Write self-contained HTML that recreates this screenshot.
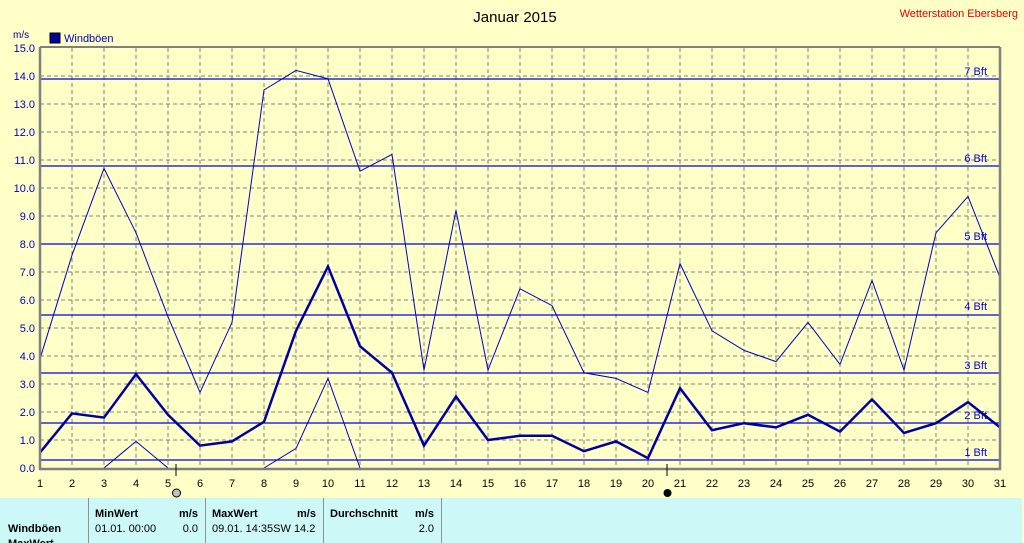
<!DOCTYPE html>
<html><head><meta charset="utf-8"><style>
html,body{margin:0;padding:0;background:#ffffc8;}
body{width:1024px;height:543px;overflow:hidden;position:relative;font-family:"Liberation Sans",sans-serif;}
</style></head><body>
<svg width="1024" height="543" style="position:absolute;left:0;top:0" font-family="Liberation Sans, sans-serif">
<rect x="0" y="0" width="1024" height="543" fill="#ffffc8"/>
<text x="515" y="22" font-size="15" text-anchor="middle" fill="#000">Januar 2015</text>
<text x="1018" y="17" font-size="11" text-anchor="end" fill="#e00000">Wetterstation Ebersberg</text>
<text x="13" y="38" font-size="10" fill="#0000a0">m/s</text>
<rect x="50" y="33" width="10" height="10" fill="#0000a0" stroke="#000" stroke-width="1"/>
<text x="64" y="42" font-size="11" fill="#0000c0">Windböen</text>
<g stroke="#808080" stroke-width="1" stroke-dasharray="4,3">
<path d="M72 48V468M104 48V468M136 48V468M168 48V468M200 48V468M232 48V468M264 48V468M296 48V468M328 48V468M360 48V468M392 48V468M424 48V468M456 48V468M488 48V468M520 48V468M552 48V468M584 48V468M616 48V468M648 48V468M680 48V468M712 48V468M744 48V468M776 48V468M808 48V468M840 48V468M872 48V468M904 48V468M936 48V468M968 48V468"/>
<path d="M40 76H1000M40 104H1000M40 132H1000M40 160H1000M40 188H1000M40 216H1000M40 244H1000M40 272H1000M40 300H1000M40 328H1000M40 356H1000M40 384H1000M40 412H1000M40 440H1000"/>
</g>
<g stroke="#0000e0" stroke-width="1.3">
<path d="M40 79H1000M40 166H1000M40 244H1000M40 315H1000M40 373H1000M40 423H1000M40 460H1000"/>
</g>
<g font-size="11" fill="#0000e0" text-anchor="end">
<text x="987" y="75">7 Bft</text><text x="987" y="162">6 Bft</text><text x="987" y="240">5 Bft</text><text x="987" y="310">4 Bft</text><text x="987" y="369">3 Bft</text><text x="987" y="419">2 Bft</text><text x="987" y="456">1 Bft</text>
</g>
<polyline fill="none" stroke="#0000c0" stroke-width="1" points="40,358.8 72,255.2 104,168.4 136,232.8 168,316.8 200,392.4 232,322.4 264,90 296,70.4 328,78.8 360,171.2 392,154.4 424,370 456,210.4 488,370 520,288.8 552,305.6 584,372.8 616,378.4 648,392.4 680,263.6 712,330.8 744,350.4 776,361.6 808,322.4 840,364.4 872,280.4 904,370 936,232.8 968,196.4 1000,277.6"/>
<polyline fill="none" stroke="#0000a0" stroke-width="2.5" points="40,452.6 72,413.4 104,417.6 136,374.2 168,414.8 200,445.6 232,441.4 264,421.8 296,330.8 328,266.4 360,346.2 392,372.8 424,445.6 456,396.6 488,440 520,435.8 552,435.8 584,451.2 616,441.4 648,458.2 680,388.2 712,430.2 744,423.2 776,427.4 808,414.8 840,431.6 872,399.4 904,433 936,423.2 968,402.2 1000,427.4"/>
<polyline fill="none" stroke="#0000c0" stroke-width="1" points="104,468 136,441.4 168,468"/>
<polyline fill="none" stroke="#0000c0" stroke-width="1" points="264,468 296,448.4 328,378.4 360,468"/>
<path d="M40 47V469H1000V47" fill="none" stroke="#808080" stroke-width="2.5"/>
<path d="M40 47H1000" stroke="#808080" stroke-width="2"/>
<g font-size="11" fill="#0000c0" text-anchor="end">
<text x="35" y="52">15.0</text><text x="35" y="80">14.0</text><text x="35" y="108">13.0</text><text x="35" y="136">12.0</text><text x="35" y="164">11.0</text><text x="35" y="192">10.0</text><text x="35" y="220">9.0</text><text x="35" y="248">8.0</text><text x="35" y="276">7.0</text><text x="35" y="304">6.0</text><text x="35" y="332">5.0</text><text x="35" y="360">4.0</text><text x="35" y="388">3.0</text><text x="35" y="416">2.0</text><text x="35" y="444">1.0</text><text x="35" y="472">0.0</text>
</g>
<g font-size="11" fill="#000" text-anchor="middle">
<text x="40" y="487">1</text><text x="72" y="487">2</text><text x="104" y="487">3</text><text x="136" y="487">4</text><text x="168" y="487">5</text><text x="200" y="487">6</text><text x="232" y="487">7</text><text x="264" y="487">8</text><text x="296" y="487">9</text><text x="328" y="487">10</text><text x="360" y="487">11</text><text x="392" y="487">12</text><text x="424" y="487">13</text><text x="456" y="487">14</text><text x="488" y="487">15</text><text x="520" y="487">16</text><text x="552" y="487">17</text><text x="584" y="487">18</text><text x="616" y="487">19</text><text x="648" y="487">20</text><text x="680" y="487">21</text><text x="712" y="487">22</text><text x="744" y="487">23</text><text x="776" y="487">24</text><text x="808" y="487">25</text><text x="840" y="487">26</text><text x="872" y="487">27</text><text x="904" y="487">28</text><text x="936" y="487">29</text><text x="968" y="487">30</text><text x="1000" y="487">31</text>
</g>
<path d="M176 464V476M667 464V476" stroke="#000" stroke-width="1"/>
<circle cx="176.5" cy="493" r="4" fill="#c0c0c0" stroke="#000" stroke-width="1"/>
<circle cx="667.5" cy="493" r="4" fill="#000"/>
<rect x="0" y="498" width="1022" height="45" fill="#ccf8f8"/>
<path d="M88.5 498V543M205.5 498V543M323.5 498V543M441.5 498V543" stroke="#909090" stroke-width="1"/>
<g font-size="11" fill="#000">
<text x="95" y="517" font-weight="bold">MinWert</text><text x="198" y="517" font-weight="bold" text-anchor="end">m/s</text>
<text x="212" y="517" font-weight="bold">MaxWert</text><text x="316" y="517" font-weight="bold" text-anchor="end">m/s</text>
<text x="330" y="517" font-weight="bold">Durchschnitt</text><text x="434" y="517" font-weight="bold" text-anchor="end">m/s</text>
<text x="8" y="532" font-weight="bold">Windböen</text>
<text x="95" y="532">01.01.  00:00</text><text x="198" y="532" text-anchor="end">0.0</text>
<text x="212" y="532">09.01.  14:35SW 14.2</text>
<text x="434" y="532" text-anchor="end">2.0</text>
<text x="8" y="547" font-weight="bold">MaxWert</text>
</g>
</svg>
</body></html>
